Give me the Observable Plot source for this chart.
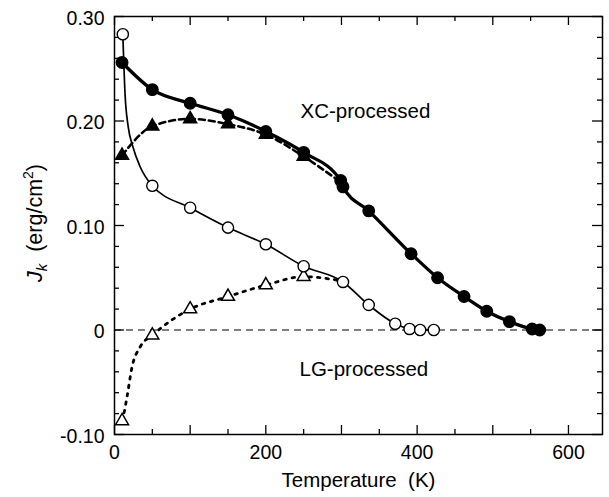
<!DOCTYPE html>
<html><head><meta charset="utf-8">
<script src="https://cdn.jsdelivr.net/npm/d3@7"></script>
<script src="https://cdn.jsdelivr.net/npm/@observablehq/plot@0.6"></script>
<style>
body{margin:0;background:#fff}
svg{font-family:"Liberation Sans",Arial,Helvetica,sans-serif}
</style>
</head><body><div id="chart"></div>
<script>
// XC-processed, filled circles (solid thick line)
const xcCircleT = [10, 50, 100, 150, 200, 250, 299, 302, 336, 392, 427, 462, 492, 522, 552, 562];
const xcCircleJ = [0.256, 0.230, 0.217, 0.206, 0.190, 0.170, 0.143, 0.137, 0.114, 0.073, 0.050, 0.032, 0.018, 0.008, 0.001, 0.000];
// XC-processed, filled triangles (dashed line, ends on the circle curve)
const xcTriT = [10, 50, 100, 150, 200, 250];
const xcTriJ = [0.167, 0.195, 0.202, 0.197, 0.187, 0.166];
const xcTriLineEndT = 300, xcTriLineEndJ = 0.141;
// LG-processed, open circles (thin solid line)
const lgCircleT = [11, 50, 100, 150, 200, 250, 302, 336, 371, 390, 404, 422];
const lgCircleJ = [0.283, 0.138, 0.117, 0.098, 0.082, 0.061, 0.046, 0.024, 0.006, 0.001, 0.000, 0.000];
// fitted curve through the open circles, steep part
const lgCircleCurveT = [11, 14, 18, 24, 34];
const lgCircleCurveJ = [0.283, 0.225, 0.195, 0.176, 0.156];
// LG-processed, open triangles (dotted line)
const lgTriT = [10, 50, 100, 150, 200, 250];
const lgTriJ = [-0.087, -0.005, 0.020, 0.032, 0.043, 0.051];
// fitted dotted curve, steep part
const lgTriCurveT = [10, 13, 17, 23, 34];
const lgTriCurveJ = [-0.087, -0.078, -0.062, -0.036, -0.016];
const lgTriLineEndT = 300, lgTriLineEndJ = 0.047;

// axes
const xMajorTicks = [0, 100, 200, 300, 400, 500, 600];
const xMinorTicks = [50, 150, 250, 350, 450, 550];
const xTickLabels = [0, 200, 400, 600];
const yMajorTicks = [-0.1, 0, 0.1, 0.2, 0.3];
const yMinorTicks = [-0.08, -0.06, -0.04, -0.02, 0.02, 0.04, 0.06, 0.08, 0.12, 0.14, 0.16, 0.18, 0.22, 0.24, 0.26, 0.28];
const yTickLabels = ["-0.10", "0", "0.10", "0.20", "0.30"];
const yTickValues = [-0.1, 0, 0.1, 0.2, 0.3];

const rows = (T, J) => T.map((t, i) => ({T: t, J: J[i]}));
const xcCirc = rows(xcCircleT, xcCircleJ);
const xcTri = rows(xcTriT, xcTriJ);
const xcTriLine = xcTri.concat([{T: xcTriLineEndT, J: xcTriLineEndJ}]);
const lgCirc = rows(lgCircleT, lgCircleJ);
const lgCircLine = rows(lgCircleCurveT, lgCircleCurveJ).concat(lgCirc.slice(1));
const lgTri = rows(lgTriT, lgTriJ);
const lgTriLine = rows(lgTriCurveT, lgTriCurveJ).concat(lgTri.slice(1), [{T: lgTriLineEndT, J: lgTriLineEndJ}]);
const yLabelMap = new Map(yTickValues.map((v, i) => [v, yTickLabels[i]]));

const W = 609, H = 497, mL = 114, mR = 7, mT = 16, mB = 63;
const xDomain = [0, 645], yDomain = [-0.1, 0.3];
const fw = W - mL - mR, fh = H - mT - mB;
// tick lengths in pixels converted to data units
const ty = len => len * (yDomain[1] - yDomain[0]) / fh;
const tx = len => len * (xDomain[1] - xDomain[0]) / fw;
const tk = {stroke: "black", strokeWidth: 1.3};
const xTicks = [...xMajorTicks.map(v => ({v, L: 9})), ...xMinorTicks.map(v => ({v, L: 5}))];
const yTicks = [...yMajorTicks.map(v => ({v, L: 10})), ...yMinorTicks.map(v => ({v, L: 5}))];

const plot = Plot.plot({
  width: W, height: H,
  marginLeft: mL, marginRight: mR, marginTop: mT, marginBottom: mB,
  style: {fontFamily: '"Liberation Sans",Arial,Helvetica,sans-serif', fontSize: "19.5px", color: "black", background: "white"},
  x: {domain: xDomain},
  y: {domain: yDomain},
  marks: [
    Plot.ruleY([0], {stroke: "black", strokeWidth: 1, strokeDasharray: "7,5"}),
    // inward ticks on all four sides
    Plot.ruleX(xTicks, {x: "v", y1: yDomain[0], y2: d => yDomain[0] + ty(d.L), ...tk}),
    Plot.ruleX(xTicks, {x: "v", y1: yDomain[1], y2: d => yDomain[1] - ty(d.L), ...tk}),
    Plot.ruleY(yTicks, {y: "v", x1: xDomain[0], x2: d => xDomain[0] + tx(d.L), ...tk}),
    Plot.ruleY(yTicks, {y: "v", x1: xDomain[1], x2: d => xDomain[1] - tx(d.L), ...tk}),
    Plot.axisX(xTickLabels, {anchor: "bottom", tickSize: 0, tickPadding: 11, label: null, fontSize: 19.5}),
    Plot.axisY(yTickValues, {anchor: "left", tickSize: 0, tickPadding: 10, dy: 2, label: null, fontSize: 19.5, tickFormat: d => yLabelMap.get(d)}),
    Plot.frame({stroke: "black", strokeWidth: 1.5}),
    Plot.line(xcCirc, {x: "T", y: "J", curve: "monotone-x", stroke: "black", strokeWidth: 3.3}),
    Plot.line(xcTriLine, {x: "T", y: "J", curve: "monotone-x", stroke: "black", strokeWidth: 2.6, strokeDasharray: "6,4"}),
    Plot.line(lgCircLine, {x: "T", y: "J", curve: "monotone-x", stroke: "black", strokeWidth: 1.7}),
    Plot.line(lgTriLine, {x: "T", y: "J", curve: "monotone-x", stroke: "black", strokeWidth: 2.8, strokeDasharray: "2.5,6"}),
    Plot.dot(xcTri, {x: "T", y: "J", symbol: "triangle", r: 4.8, fill: "black", stroke: "black"}),
    Plot.dot(xcCirc, {x: "T", y: "J", r: 5.7, fill: "black", stroke: "black"}),
    Plot.dot(lgTri, {x: "T", y: "J", symbol: "triangle", r: 4.8, fill: "white", stroke: "black", strokeWidth: 1.5}),
    Plot.dot(lgCirc, {x: "T", y: "J", r: 5.6, fill: "white", stroke: "black", strokeWidth: 1.4}),
    Plot.text(["XC-processed"], {frameAnchor: "top-left", dx: 186, dy: 101, textAnchor: "start", lineAnchor: "bottom", fontSize: 20.5}),
    Plot.text(["LG-processed"], {frameAnchor: "top-left", dx: 185, dy: 359, textAnchor: "start", lineAnchor: "bottom", fontSize: 20.5}),
    Plot.text(["Temperature\u00a0 (K)"], {frameAnchor: "bottom", dy: 52, fontSize: 20.5})
  ]
});
document.getElementById("chart").appendChild(plot);

const svg = d3.select(plot);
const t = svg.append("text")
  .attr("transform", "translate(42,223) rotate(-90)")
  .attr("text-anchor", "middle")
  .attr("font-size", 21.5)
  .attr("fill", "black");
t.append("tspan").attr("font-style", "italic").text("J");
t.append("tspan").attr("font-style", "italic").attr("font-size", 15).attr("dy", 5).text("k");
t.append("tspan").attr("dy", -5).text("\u00a0 (erg/cm");
t.append("tspan").attr("font-size", 14).attr("dy", -9).text("2");
t.append("tspan").attr("dy", 9).text(")");
</script>
</body></html>
